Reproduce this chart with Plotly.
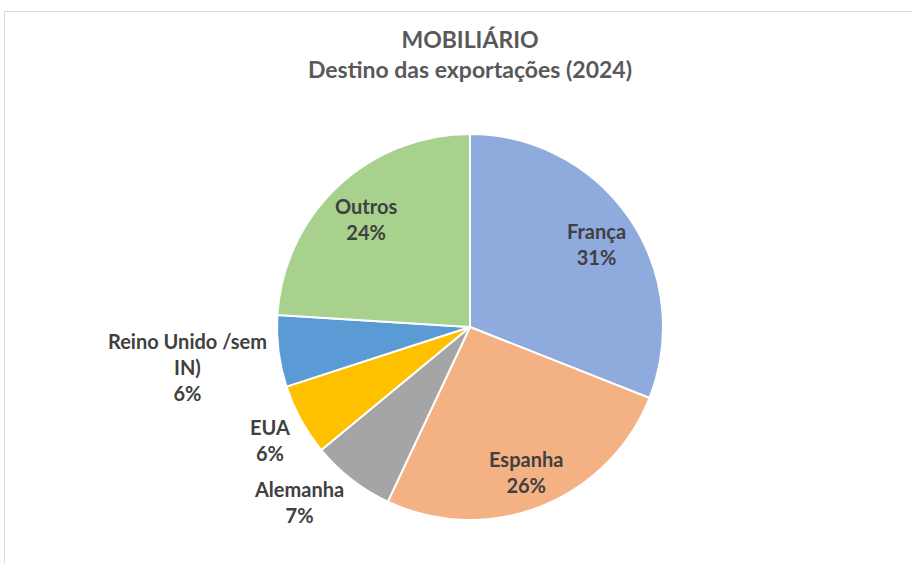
import math
import plotly.graph_objects as go

labels = ["França", "Espanha", "Alemanha", "EUA", "Reino Unido /sem<br>IN)", "Outros"]
values = [31, 26, 7, 6, 6, 24]
colors = ["#8FAADC", "#F4B183", "#A5A5A5", "#FFC000", "#5B9BD5", "#A9D18E"]
label_side = ["inside", "inside", "outside", "outside", "outside", "inside"]

W, H = 912, 563
cx, cy, r = 470, 327, 193

fig = go.Figure(go.Pie(
    labels=labels,
    values=values,
    sort=False,
    direction="clockwise",
    rotation=0,
    marker=dict(colors=colors, line=dict(color="white", width=2)),
    textinfo="none",
    showlegend=False,
    hoverinfo="skip",
    domain=dict(x=[(cx - r) / W, (cx + r) / W], y=[(H - cy - r) / H, (H - cy + r) / H]),
))

# data labels placed at each slice's mid-angle (Excel-style best fit)
total = sum(values)
annotations = []
cum = 0
for lab, v, side in zip(labels, values, label_side):
    mid = (cum + v / 2) / total * 2 * math.pi
    cum += v
    pct = round(v / total * 100)
    if side == "inside":
        d, xa, dy = 0.79 * r, "center", 3
    else:
        d, xa, dy = r + 10, "right", 15
    px = cx + d * math.sin(mid)
    py = cy - d * math.cos(mid) + dy
    annotations.append(dict(
        x=px / W, y=1 - py / H, xref="paper", yref="paper",
        xanchor=xa, yanchor="middle", showarrow=False, align="center",
        text=f"{lab}<br>{pct}%",
        font=dict(family="Lato", size=20, color="#404040", weight="bold"),
    ))

fig.update_layout(
    width=W, height=H,
    margin=dict(l=0, r=0, t=0, b=0),
    paper_bgcolor="white",
    title=dict(
        text="MOBILIÁRIO<br>Destino das exportações (2024)",
        x=470 / W, xanchor="center", y=1 - 48 / H, yanchor="top",
        font=dict(family="Lato", size=23, color="#595959", weight="bold"),
    ),
    annotations=annotations,
    shapes=[dict(type="rect", xref="paper", yref="paper",
                 x0=4.5 / W, x1=1.02, y0=-0.02, y1=1 - 11.5 / H,
                 line=dict(color="#D9D9D9", width=1), fillcolor="rgba(0,0,0,0)")],
)

fig.write_html("out.html", config={"displayModeBar": False},
               post_script="document.body.style.margin='0';")
